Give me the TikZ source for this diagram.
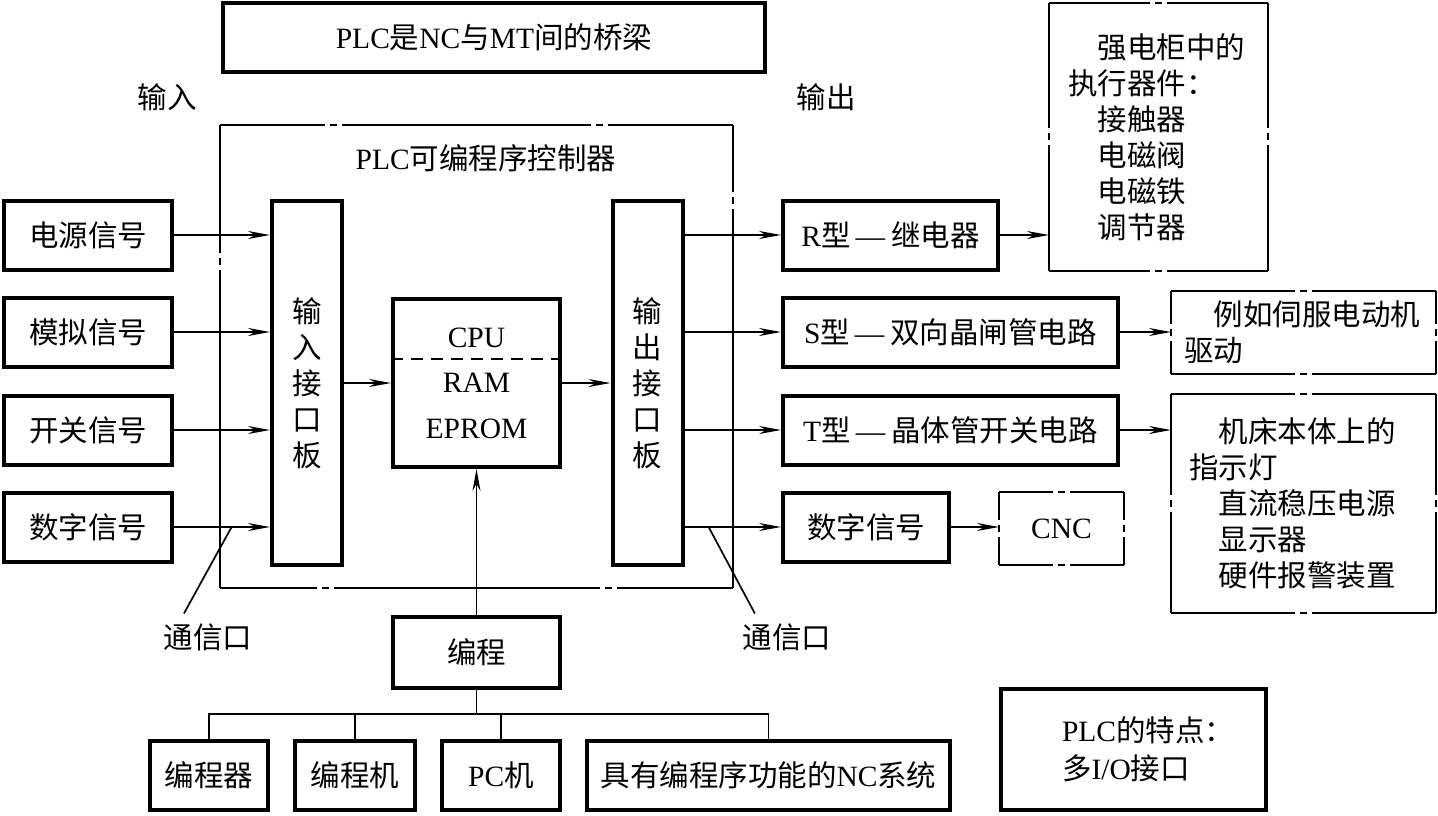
\documentclass[tikz,border=0pt]{standalone}
\usepackage{fontspec}
\setmainfont{Liberation Serif}
\newfontfamily\cjk{Noto Sans CJK SC}
\newcommand\zh[1]{{\cjk #1}}
\newcommand\rdash{\kern5pt—\kern6pt}
\usetikzlibrary{arrows.meta,calc}
\newcommand\chainbox[3]{%
    \draw[chainat=#2] (#1.north west) -- (#1.north east) (#1.south west) -- (#1.south east);
    \draw[chainat=#3] (#1.north west) -- (#1.south west) (#1.north east) -- (#1.south east);
}
\begin{document}
\begin{tikzpicture}[x=1pt, y=-1pt, line width=1.7pt,
    >={Stealth[length=22pt,width=8pt,inset=7pt]},
    every node/.style={font=\fontsize{29.5}{36}\selectfont, inner sep=0pt},
    sig/.style={draw, line width=4pt, minimum height=69pt},
    board/.style={draw, line width=4pt, minimum width=70pt, minimum height=364pt, align=center, font=\cjk\fontsize{29.5}{36}\selectfont},
    ghost/.style={outer sep=0pt},
    note/.style={ghost, align=left, font=\cjk\fontsize{29.5}{36}\selectfont},
    chainat/.style={dash pattern=on #1 off 5pt on 7pt off 5pt on 2000pt}]
    \useasboundingbox (0,0) rectangle (1438,815);

    \node[sig, minimum width=542pt] (title) at (494,37.5) {PLC\zh{是}NC\zh{与}MT\zh{间的桥梁}};
    \node (inlabel) at (167,97) {\zh{输入}};
    \node (outlabel) at (826,97) {\zh{输出}};
    \node[ghost, minimum width=513pt, minimum height=463pt] (plc) at (476.5,356.5) {};
    \node (plcname) at (486,158) {PLC\zh{可编程序控制器}};

    \node[sig, minimum width=168pt] (power) at (88,235) {\zh{电源信号}};
    \node[sig, minimum width=168pt] (analog) at (88,332) {\zh{模拟信号}};
    \node[sig, minimum width=168pt] (switch) at (88,430) {\zh{开关信号}};
    \node[sig, minimum width=168pt] (digin) at (88,527) {\zh{数字信号}};
    \node[board] (inboard) at (307,383) {输\\入\\接\\口\\板};
    \node[sig, minimum width=167pt, minimum height=168pt, align=center, font=\fontsize{29.5}{45.5}\selectfont] (cpu) at (476.5,383) {CPU\\RAM\\EPROM};
    \node[board] (outboard) at (647.5,383) {输\\出\\接\\口\\板};

    \node[sig, minimum width=215pt] (relay) at (890.5,235) {R\zh{型}\rdash\zh{继电器}};
    \node[sig, minimum width=335pt] (triac) at (950.5,332) {S\zh{型}\rdash\zh{双向晶闸管电路}};
    \node[sig, minimum width=335pt] (trans) at (950.5,430) {T\zh{型}\rdash\zh{晶体管开关电路}};
    \node[sig, minimum width=166pt] (digout) at (866,527) {\zh{数字信号}};
    \node[ghost, minimum width=125pt, minimum height=73pt] (cnc) at (1061.5,528.5) {CNC};

    \node[note, minimum height=268pt, text width=181pt, inner xsep=19pt] (cabinet) at (1158.5,137)
        {\hspace*{1em}强电柜中的\\执行器件：\\\hspace*{1em}接触器\\\hspace*{1em}电磁阀\\\hspace*{1em}电磁铁\\\hspace*{1em}调节器};
    \node[note, minimum height=83pt, text width=239pt, inner xsep=13pt] (servo) at (1303.5,332.5)
        {\hspace*{1em}例如伺服电动机\\驱动};
    \node[note, minimum height=219pt, text width=229pt, inner xsep=18pt] (machine) at (1303.5,503.5)
        {\hspace*{1em}机床本体上的\\指示灯\\\hspace*{1em}直流稳压电源\\\hspace*{1em}显示器\\\hspace*{1em}硬件报警装置};
    \node[sig, minimum width=265pt, minimum height=121pt, text width=143pt, inner xsep=61pt, align=left, font=\fontsize{29.5}{38}\selectfont] (feature) at (1133.5,749.5)
        {PLC\zh{的特点：}\\\zh{多}I/O\zh{接口}};

    \node[sig, minimum width=167pt, minimum height=71pt] (prog) at (476.5,652.5) {\zh{编程}};
    \node[sig, minimum width=118pt] (progdev) at (209,775) {\zh{编程器}};
    \node[sig, minimum width=120pt] (progmach) at (355,775) {\zh{编程机}};
    \node[sig, minimum width=118pt] (pc) at (501,775) {PC\zh{机}};
    \node[sig, minimum width=363pt] (ncsys) at (768.5,775) {\zh{具有编程序功能的}NC\zh{系统}};

    \node (comin) at (208,637) {\zh{通信口}};
    \node (comout) at (787,637) {\zh{通信口}};

    % dash-dot frames
    \draw[dash pattern=on 105pt off 5pt on 7pt off 5pt on 249pt off 5pt on 7pt off 5pt on 2000pt] (plc.north west) -- (plc.north east);
    \draw[dash pattern=on 97pt off 5pt on 7pt off 5pt on 266pt off 5pt on 7pt off 5pt on 2000pt] (plc.south west) -- (plc.south east);
    \draw[chainat=128pt] (plc.north west) -- (plc.south west);
    \draw[chainat=67pt] (plc.north east) -- (plc.south east);
    \chainbox{cabinet}{101pt}{125pt}
    \chainbox{servo}{124pt}{33pt}
    \chainbox{machine}{124pt}{101pt}
    \chainbox{cnc}{54pt}{28pt}
    \draw[dash pattern=on 12pt off 8pt] ([yshift=-62pt]cpu.north west) -- ([yshift=-62pt]cpu.north east);

    \draw[->] (power.east) -- (power -| inboard.west);
    \draw[->] (analog.east) -- (analog -| inboard.west);
    \draw[->] (switch.east) -- (switch -| inboard.west);
    \draw[->] (digin.east) -- (digin -| inboard.west);
    \draw[->] (inboard.east |- cpu) -- (cpu.west);
    \draw[->] (cpu.east) -- (cpu -| outboard.west);
    \draw[->] (outboard.east |- relay) -- (relay.west);
    \draw[->] (outboard.east |- triac) -- (triac.west);
    \draw[->] (outboard.east |- trans) -- (trans.west);
    \draw[->] (outboard.east |- digout) -- (digout.west);
    \draw[->] (relay.east) -- (relay -| cabinet.west);
    \draw[->] (triac.east) -- (triac -| servo.west);
    \draw[->] (trans.east) -- (trans -| machine.west);
    \draw[->] (digout.east) -- (digout -| cnc.west);
    \draw[->] (prog.north) -- (cpu.south);

    \coordinate (tapin) at ($(digin.east)!0.6!(digin -| inboard.west)$);
    \coordinate (tapout) at ($(outboard.east |- digout)!0.25!(digout.west)$);
    \draw (tapin) -- ([xshift=21pt,yshift=9pt]comin.north west);
    \draw (tapout) -- ([xshift=13pt,yshift=9pt]comout.north west);

    \coordinate (bus) at ([yshift=-24pt]prog.south);
    \draw (prog.south) -- (bus);
    \draw (progdev.north) |- (bus) -| (ncsys.north);
    \draw (progmach.north) -- (progmach.north |- bus);
    \draw (pc.north) -- (pc.north |- bus);
\end{tikzpicture}
\end{document}
